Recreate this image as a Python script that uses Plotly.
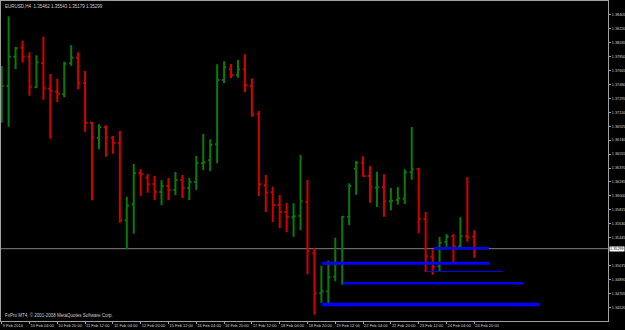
import plotly.graph_objects as go

# ---- data (EURUSD H4) ----
bar_open = [1.37273, 1.37458, 1.37847, 1.37967, 1.37847, 1.37441, 1.37764, 1.37423, 1.37383, 1.37348,
            1.37760, 1.37834, 1.37494, 1.36971, 1.36768, 1.36910, 1.36772, 1.36698, 1.35676, 1.35888,
            1.36303, 1.36241, 1.36157, 1.36051, 1.36131, 1.36078, 1.36211, 1.36104, 1.36184, 1.36432,
            1.36472, 1.36684, 1.37538, 1.37680, 1.37600, 1.37680, 1.37454, 1.37083, 1.36140, 1.36047,
            1.35879, 1.35786, 1.35715, 1.35737, 1.35922, 1.35237, 1.34706, 1.34733, 1.34927, 1.35105,
            1.35723, 1.36361, 1.36440, 1.36264, 1.36108, 1.36114, 1.35928, 1.35945, 1.35962, 1.36313,
            1.36353, 1.35689, 1.35192, 1.35065, 1.35387, 1.35463, 1.35330, 1.35463, 1.35462]
bar_high = [1.37724, 1.38384, 1.37976, 1.38060, 1.37906, 1.37866, 1.38113, 1.37618, 1.37555, 1.37781,
            1.37999, 1.37906, 1.37658, 1.36980, 1.36950, 1.36937, 1.36795, 1.36861, 1.35989, 1.36423,
            1.36353, 1.36290, 1.36264, 1.36211, 1.36237, 1.36317, 1.36277, 1.36237, 1.36529, 1.36821,
            1.36751, 1.37746, 1.37786, 1.37750, 1.37808, 1.37879, 1.37561, 1.37127, 1.36277, 1.36122,
            1.36011, 1.35905, 1.35901, 1.36542, 1.36211, 1.35308, 1.35073, 1.35139, 1.35445, 1.35733,
            1.36167, 1.36463, 1.36525, 1.36396, 1.36321, 1.36286, 1.36104, 1.36118, 1.36353, 1.36914,
            1.36370, 1.35786, 1.35291, 1.35454, 1.35494, 1.35494, 1.35715, 1.36250, 1.35543]
bar_low = [1.36971, 1.36918, 1.37684, 1.37768, 1.37330, 1.37432, 1.37277, 1.36759, 1.37246, 1.37308,
           1.37728, 1.37415, 1.36852, 1.35941, 1.36618, 1.36520, 1.36560, 1.35644, 1.35291, 1.35498,
           1.35998, 1.36042, 1.35945, 1.35879, 1.35945, 1.36011, 1.35972, 1.35945, 1.36078, 1.36343,
           1.36330, 1.36432, 1.37498, 1.37561, 1.37569, 1.37375, 1.37051, 1.35998, 1.35786, 1.35653,
           1.35573, 1.35520, 1.35458, 1.35543, 1.34959, 1.34422, 1.34582, 1.34547, 1.34866, 1.34821,
           1.35609, 1.36015, 1.36254, 1.35909, 1.35852, 1.35723, 1.35808, 1.35883, 1.35892, 1.36215,
           1.35503, 1.34989, 1.34953, 1.35003, 1.35325, 1.35113, 1.35321, 1.35391, 1.35179]
bar_close = [1.37458, 1.37847, 1.37959, 1.37847, 1.37449, 1.37773, 1.37428, 1.37392, 1.37348, 1.37754,
             1.37834, 1.37494, 1.36971, 1.36777, 1.36910, 1.36777, 1.36706, 1.35676, 1.35869, 1.36303,
             1.36290, 1.36153, 1.36051, 1.36131, 1.36078, 1.36211, 1.36104, 1.36184, 1.36436, 1.36446,
             1.36675, 1.37538, 1.37707, 1.37600, 1.37680, 1.37468, 1.37083, 1.36153, 1.36042, 1.35879,
             1.35786, 1.35719, 1.35729, 1.35928, 1.35264, 1.34706, 1.34733, 1.34919, 1.35105, 1.35723,
             1.36131, 1.36440, 1.36264, 1.36114, 1.36114, 1.35928, 1.35936, 1.35968, 1.36313, 1.36353,
             1.35697, 1.35198, 1.35056, 1.35378, 1.35458, 1.35330, 1.35463, 1.35450, 1.35299]

time_labels = ["9 Feb 2010", "10 Feb 04:00", "10 Feb 20:00", "11 Feb 12:00", "12 Feb 04:00",
               "12 Feb 20:00", "15 Feb 12:00", "16 Feb 04:00", "16 Feb 20:00", "17 Feb 12:00",
               "18 Feb 04:00", "18 Feb 20:00", "19 Feb 12:00", "22 Feb 04:00", "22 Feb 20:00",
               "23 Feb 12:00", "24 Feb 04:00", "24 Feb 20:00"]
time_label_bars = [0, 4, 8, 12, 16, 20, 24, 28, 32, 36, 40, 44, 48, 52, 56, 60, 64, 68]

# price scale labels (the one hidden behind the current-price box is omitted)
price_ticks = [1.34335, 1.34520, 1.34705, 1.34890, 1.35075, 1.35445, 1.35630, 1.35815,
               1.36000, 1.36185, 1.36370, 1.36555, 1.36740, 1.36925, 1.37110, 1.37295, 1.37480,
               1.37665, 1.37850, 1.38035, 1.38220, 1.38405]

# horizontal levels (blue lines)
level_price = [1.35304, 1.35106, 1.34996, 1.34839, 1.34558]
level_start = [62.2, 46.1, 61.2, 49.1, 46.1]
level_end = [70.1, 70.2, 72.1, 75.1, 77.4]
level_width = [2.5, 3, 1.2, 2.5, 3.5]

symbol = "EURUSD,H4"
bars_idx = list(range(len(bar_open)))

fig = go.Figure()
last_close = bar_close[-1]
fig.add_shape(type="line", xref="paper", x0=0, x1=1, y0=last_close, y1=last_close,
              line=dict(color="#808080", width=1), layer="below")

fig.add_trace(go.Ohlc(
    x=bars_idx, open=bar_open, high=bar_high, low=bar_low, close=bar_close,
    increasing=dict(line=dict(color="#0a7a0a", width=2)),
    decreasing=dict(line=dict(color="#d40000", width=2)),
    tickwidth=0.3, hoverinfo="skip", showlegend=False,
))

for p, s, e, w in zip(level_price, level_start, level_end, level_width):
    fig.add_trace(go.Scatter(x=[s, e], y=[p, p], mode="lines",
                             line=dict(color="#0000ff", width=w),
                             hoverinfo="skip", showlegend=False))

txt = "#d0d0d0"
fig.add_annotation(xref="paper", yref="paper", x=0, y=1, xanchor="left", yanchor="top",
                   xshift=2, yshift=-1, showarrow=False,
                   text=f"{symbol}  {bar_open[-1]:.5f} {bar_high[-1]:.5f} {bar_low[-1]:.5f} {bar_close[-1]:.5f}",
                   font=dict(family="Liberation Sans", size=4.5, color=txt))
fig.add_annotation(xref="paper", yref="paper", x=0, y=0, xanchor="left", yanchor="bottom",
                   xshift=2, yshift=1, showarrow=False,
                   text="FxPro MT4, © 2001-2008 MetaQuotes Software Corp.",
                   font=dict(family="Liberation Sans", size=4.5, color=txt))
fig.add_annotation(xref="paper", yref="y", x=1, y=last_close, xanchor="left", yanchor="middle",
                   xshift=1, showarrow=False, text=f"{last_close:.5f}", bgcolor="#ffffff",
                   borderpad=0, font=dict(family="Liberation Sans", size=3.8, color="#000000"))

fig.update_layout(
    width=625, height=330,
    margin=dict(l=1, r=17, t=1, b=9, autoexpand=False),
    paper_bgcolor="#000000", plot_bgcolor="#000000",
    xaxis=dict(range=[-0.1, 87.24], rangeslider=dict(visible=False), showgrid=False,
               zeroline=False, showline=True, mirror=True, linecolor="#a0a0a0", linewidth=1,
               tickmode="array", tickvals=time_label_bars, ticktext=time_labels,
               ticks="outside", ticklen=2, tickcolor="#a0a0a0", tickangle=0,
               ticklabelposition="outside right", automargin=False,
               tickfont=dict(family="Liberation Sans", size=4, color=txt)),
    yaxis=dict(range=[1.343389, 1.385869], side="right", showgrid=False, zeroline=False,
               showline=True, mirror=True, linecolor="#a0a0a0", linewidth=1,
               tickmode="array", tickvals=price_ticks,
               ticktext=[f"{v:.5f}" for v in price_ticks], automargin=False,
               ticks="outside", ticklen=2, tickcolor="#a0a0a0", ticklabelstandoff=0,
               tickfont=dict(family="Liberation Sans", size=3.8, color=txt)),
)

fig.write_html("out.html")
